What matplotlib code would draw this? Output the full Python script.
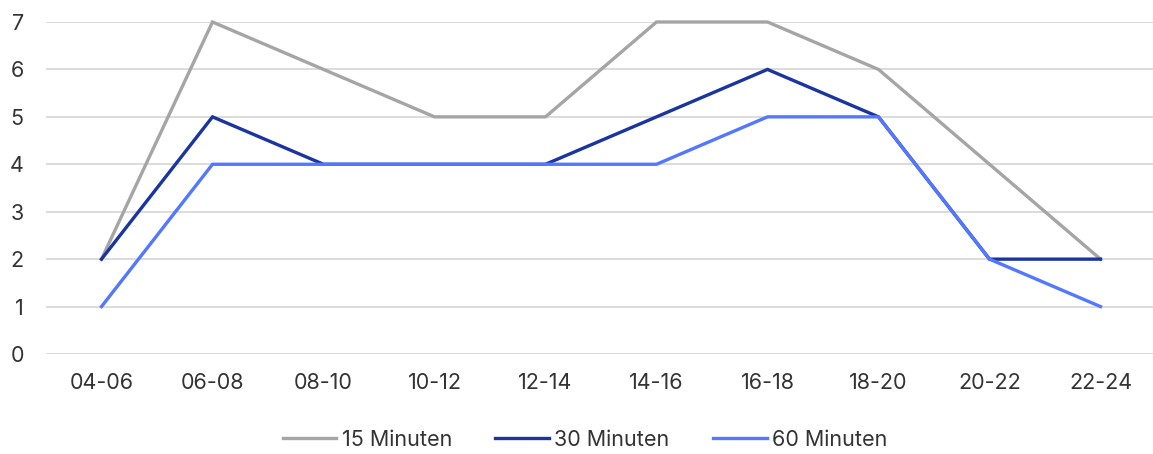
import matplotlib
matplotlib.use("Agg")
import matplotlib.pyplot as plt

categories = ["04-06", "06-08", "08-10", "10-12", "12-14", "14-16", "16-18", "18-20", "20-22", "22-24"]
series_names = ["15 Minuten", "30 Minuten", "60 Minuten"]
min15 = [2, 7, 6, 5, 5, 7, 7, 6, 4, 2]
min30 = [2, 5, 4, 4, 4, 5, 6, 5, 2, 2]
min60 = [1, 4, 4, 4, 4, 4, 5, 5, 2, 1]
colors = ["#a5a5a5", "#1a34a0", "#5377ff"]

plt.rcParams["font.family"] = ["Inter", "DejaVu Sans"]

W, H = 1153, 454
fig = plt.figure(figsize=(W / 100, H / 100), dpi=100)
left, right = 46, 1156
ax = fig.add_axes([left / W, 1 - 354 / H, (right - left) / W, (354 - 22) / H])

x = list(range(len(categories)))
for vals, name, c in zip([min15, min30, min60], series_names, colors):
    ax.plot(x, vals, color=c, lw=2.4, label=name, solid_joinstyle="miter",
            zorder=3, clip_on=False)

ax.set_xlim(-0.5, 9.5)
ax.set_ylim(0, 7)
ax.set_yticks(range(0, 8))
ax.set_xticks(x)
ax.set_xticklabels(categories)
ax.grid(axis="y", color="#d9d9d9", lw=1.3, zorder=0)
for s in ax.spines.values():
    s.set_visible(False)
ax.tick_params(axis="both", length=0, labelsize=15.5, labelcolor="#333333")
ax.tick_params(axis="x", pad=14)
ax.tick_params(axis="y", pad=16)

fig.legend(loc="center", bbox_to_anchor=(585 / W, 1 - 440 / H), ncol=3, frameon=False,
           fontsize=15.5, handlelength=2.5, handletextpad=0.25, columnspacing=2.0,
           labelcolor="#333333")

fig.savefig("out.png", dpi=100)
